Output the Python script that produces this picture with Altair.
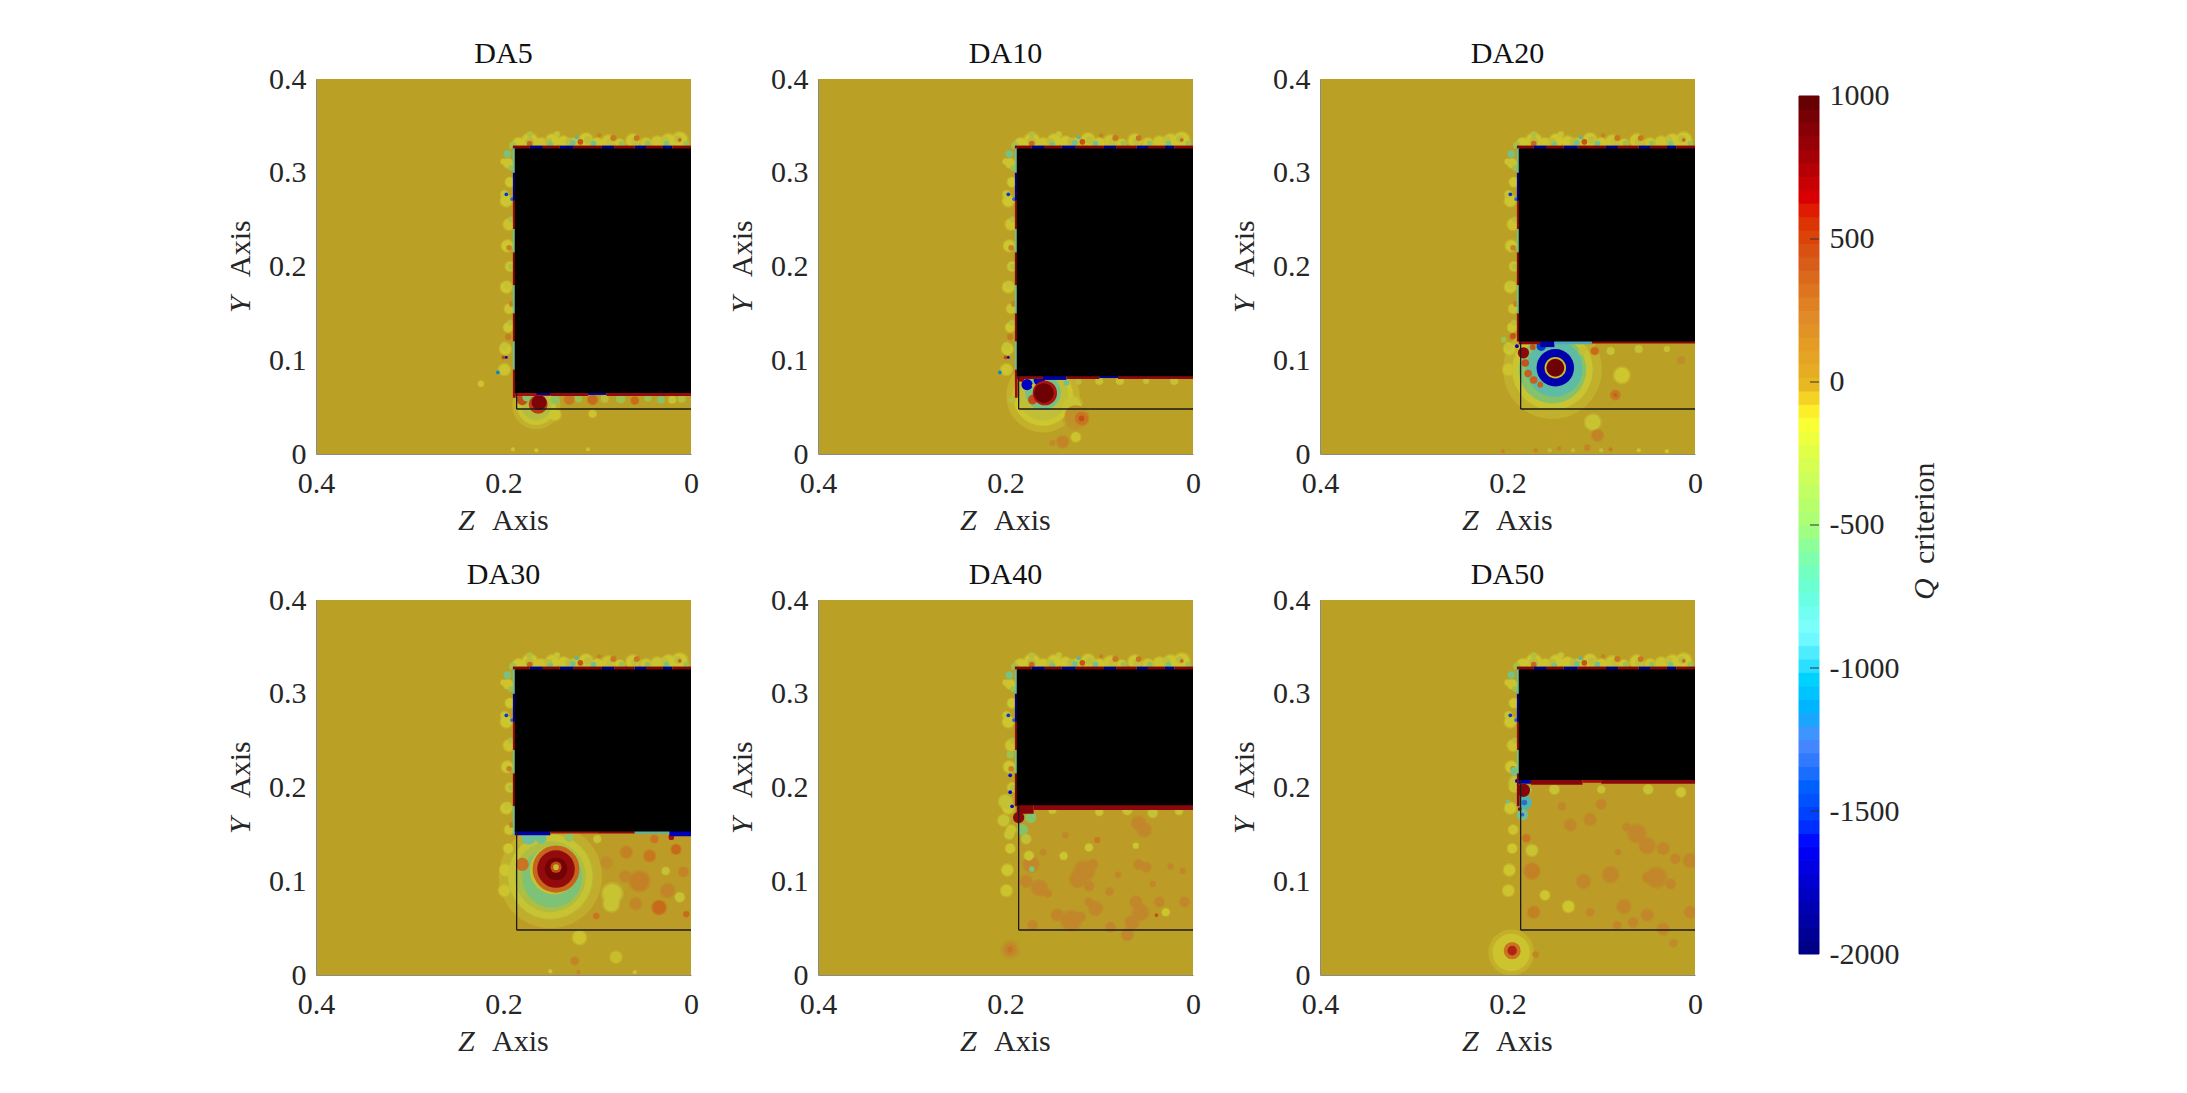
import altair as alt
import numpy as np
import pandas as pd

FONT = "Liberation Serif"
FS = 30
TXT = "#262626"
PW = PH = 375
PX_PER_UNIT = PW / 0.4

titles = ["DA5", "DA10", "DA20", "DA30", "DA40", "DA50"]
block_low = [0.065, 0.083, 0.120, 0.153, 0.181, 0.208]  # lower edge of the black body
block_top = 0.326
block_z = 0.188
box_z = 0.186
box_y = 0.048

# Q colour stops: field colours (duller than the colourbar), then colourbar colours
q_stops = [-2000, -1620, -1300, -1000, -800, -500, -300, -130, 0, 150, 300, 500, 650, 1000]
field_colors = ["#00007a", "#0000c8", "#2f6cc8", "#4fa8c0", "#6fc09a", "#9dc04e", "#bdbc3a",
                "#cdc62f", "#bba026", "#c08a2c", "#c97420", "#c24a18", "#b01410", "#640000"]
bar_stops = [-2000, -1610, -1250, -870, -500, -127, 0, 233, 424, 625, 1000]
bar_colors = ["#000080", "#0000ff", "#4d8cff", "#80ffff", "#a8ff78", "#ffff30",
              "#e6b422", "#e08a28", "#d85a18", "#e00000", "#600000"]
bar_ticks = [-2000, -1500, -1000, -500, 0, 500, 1000]

# (z, y, radius, Q)  blobs shared by all panels
fringe_base = [
    (0.184, 0.331, 0.006, -130), (0.172, 0.334, 0.008, -130), (0.160, 0.331, 0.006, -120),
    (0.148, 0.334, 0.007, -130), (0.136, 0.333, 0.006, -130), (0.124, 0.331, 0.006, -120),
    (0.112, 0.335, 0.007, -130), (0.100, 0.331, 0.006, -130), (0.088, 0.333, 0.007, -120),
    (0.076, 0.331, 0.005, -130), (0.062, 0.334, 0.007, -130), (0.048, 0.331, 0.006, -120),
    (0.036, 0.333, 0.006, -120), (0.024, 0.334, 0.007, -130), (0.012, 0.335, 0.008, -130),
    (0.195, 0.310, 0.005, -120), (0.193, 0.290, 0.005, -130), (0.197, 0.270, 0.006, -130),
    (0.194, 0.245, 0.006, -120), (0.196, 0.222, 0.006, -130), (0.193, 0.200, 0.005, -120),
    (0.197, 0.178, 0.006, -130), (0.194, 0.155, 0.005, -120), (0.195, 0.135, 0.005, -130),
    (0.198, 0.112, 0.006, -130), (0.199, 0.090, 0.006, -120),
]
fringe_top = [
    (0.196, 0.320, 0.004, -700), (0.190, 0.329, 0.004, -450), (0.172, 0.333, 0.005, -300),
    (0.172, 0.341, 0.003, -350), (0.172, 0.331, 0.003, 350), (0.152, 0.333, 0.004, -300),
    (0.150, 0.330, 0.003, -700), (0.143, 0.341, 0.003, -200), (0.130, 0.333, 0.004, -300),
    (0.126, 0.332, 0.003, -750), (0.122, 0.338, 0.002, -900), (0.118, 0.333, 0.003, 450),
    (0.110, 0.335, 0.004, -280), (0.104, 0.331, 0.003, -750), (0.098, 0.340, 0.002, 220),
    (0.086, 0.333, 0.004, -250), (0.083, 0.337, 0.003, 280), (0.074, 0.331, 0.003, -500),
    (0.060, 0.333, 0.004, -280), (0.058, 0.337, 0.003, 280), (0.046, 0.331, 0.003, -550),
    (0.028, 0.335, 0.004, -260), (0.026, 0.331, 0.003, -650), (0.014, 0.336, 0.004, -300),
    (0.012, 0.335, 0.002, 350), (0.005, 0.331, 0.003, -500),
]
fringe_left = [
    (0.192, 0.305, 0.003, -500), (0.200, 0.312, 0.003, -120), (0.199, 0.277, 0.004, -200),
    (0.197, 0.277, 0.002, -1500), (0.191, 0.272, 0.002, -1300), (0.192, 0.250, 0.003, -350),
    (0.194, 0.220, 0.003, 200), (0.192, 0.200, 0.003, -400), (0.196, 0.180, 0.004, -200),
    (0.191, 0.160, 0.003, 200), (0.193, 0.140, 0.003, -300), (0.195, 0.125, 0.003, 250),
    (0.199, 0.115, 0.004, -200), (0.200, 0.103, 0.002, 500), (0.197, 0.103, 0.0015, -1700),
    (0.200, 0.090, 0.003, -150), (0.206, 0.087, 0.002, -1200),
]
# (z0, z1, Q) along the top edge, (y0, y1, Q) along the left edge
band_top = [
    (0.190, 0.172, 850), (0.172, 0.158, -1950), (0.158, 0.140, 880), (0.140, 0.125, -1900),
    (0.125, 0.095, 880), (0.095, 0.082, -1950), (0.082, 0.060, 850), (0.060, 0.048, -1900),
    (0.048, 0.030, 880), (0.030, 0.020, -1950), (0.020, 0.0, 850),
]
band_left = [
    (0.300, 0.326, -800), (0.270, 0.300, -1900), (0.240, 0.270, 750), (0.215, 0.240, -700),
    (0.180, 0.215, 850), (0.150, 0.180, -750), (0.120, 0.150, 800), (0.090, 0.120, -800),
    (0.060, 0.090, 750),
]

blobs_da5 = [
    (0.165, 0.052, 0.021, -170), (0.165, 0.052, 0.016, -350), (0.224, 0.075, 0.003, -150),
    (0.145, 0.042, 0.006, -130), (0.105, 0.043, 0.004, -120), (0.145, 0.058, 0.005, -550),
    (0.130, 0.058, 0.005, 300), (0.120, 0.059, 0.004, -500), (0.105, 0.058, 0.005, 350),
    (0.092, 0.059, 0.004, -300), (0.075, 0.059, 0.005, -500), (0.060, 0.057, 0.004, 350),
    (0.046, 0.060, 0.004, -500), (0.032, 0.058, 0.004, -600), (0.020, 0.058, 0.004, -200),
    (0.010, 0.059, 0.004, -350), (0.180, 0.058, 0.006, 480), (0.175, 0.061, 0.005, -600),
    (0.163, 0.053, 0.010, 550), (0.162, 0.055, 0.008, 880),
    (0.110, 0.005, 0.002, -120), (0.190, 0.005, 0.002, -120), (0.165, 0.004, 0.002, -130),
]
strip_da5 = [
    (0.188, 0.150, 0.062, 0.066, 700), (0.165, 0.145, 0.063, 0.066, -1900),
    (0.150, 0.110, 0.062, 0.066, 800), (0.110, 0.090, 0.063, 0.066, -1800),
    (0.090, 0.0, 0.062, 0.066, 780),
]

blobs_da10 = [
    (0.160, 0.062, 0.032, -130), (0.160, 0.063, 0.027, -260), (0.160, 0.066, 0.019, -700),
    (0.193, 0.058, 0.004, -300), (0.129, 0.051, 0.010, -180), (0.125, 0.040, 0.012, 100),
    (0.119, 0.038, 0.007, 300), (0.119, 0.038, 0.003, 480), (0.139, 0.013, 0.006, 200),
    (0.150, 0.012, 0.003, 150), (0.125, 0.018, 0.005, -120), (0.171, 0.058, 0.005, 500),
    (0.177, 0.074, 0.006, -1650), (0.164, 0.079, 0.006, -1700), (0.183, 0.080, 0.003, 800),
    (0.170, 0.073, 0.002, -100), (0.158, 0.065, 0.013, 650), (0.159, 0.065, 0.0105, 950),
    (0.135, 0.076, 0.003, -800), (0.122, 0.077, 0.003, -300), (0.100, 0.078, 0.004, -200),
    (0.078, 0.078, 0.004, -180), (0.050, 0.078, 0.003, -230), (0.020, 0.078, 0.004, -200),
]
strip_da10 = [
    (0.188, 0.160, 0.080, 0.084, 800), (0.160, 0.135, 0.079, 0.084, -1800),
    (0.135, 0.100, 0.080, 0.084, 850), (0.100, 0.080, 0.081, 0.084, -1800),
    (0.080, 0.0, 0.080, 0.084, 800),
]

blobs_da20 = [
    (0.152, 0.090, 0.043, -170), (0.152, 0.090, 0.036, -600), (0.150, 0.091, 0.030, -850),
    (0.183, 0.108, 0.006, 800), (0.181, 0.097, 0.004, 450), (0.178, 0.086, 0.004, 400),
    (0.172, 0.079, 0.004, 400), (0.165, 0.074, 0.003, 400),
    (0.149, 0.092, 0.020, -1750), (0.164, 0.115, 0.005, -1500), (0.149, 0.092, 0.0115, -100),
    (0.149, 0.092, 0.0096, 950), (0.173, 0.114, 0.003, 450), (0.107, 0.110, 0.004, 350),
    (0.204, 0.122, 0.003, -500), (0.194, 0.126, 0.003, 450), (0.190, 0.115, 0.002, -1700),
    (0.078, 0.084, 0.008, -130), (0.085, 0.063, 0.005, 280), (0.085, 0.063, 0.002, 400),
    (0.109, 0.034, 0.008, -180), (0.104, 0.020, 0.006, 200), (0.120, 0.110, 0.004, -250),
    (0.090, 0.110, 0.004, -200), (0.060, 0.112, 0.004, -220), (0.030, 0.112, 0.003, -200),
    (0.015, 0.100, 0.004, 130), (0.170, 0.004, 0.002, 200), (0.155, 0.004, 0.002, -300),
    (0.145, 0.006, 0.002, 180), (0.130, 0.004, 0.002, -300), (0.115, 0.007, 0.003, 200),
    (0.100, 0.004, 0.002, -250), (0.090, 0.005, 0.002, 250), (0.060, 0.004, 0.002, -150),
    (0.205, 0.003, 0.002, 180), (0.030, 0.003, 0.002, -150),
]
strip_da20 = [
    (0.188, 0.165, 0.117, 0.121, 800), (0.165, 0.150, 0.114, 0.121, -1800),
    (0.150, 0.110, 0.117, 0.121, -1000), (0.110, 0.0, 0.118, 0.121, 820),
]

blobs_da30 = [
    (0.150, 0.105, 0.045, -180), (0.150, 0.105, 0.038, -400), (0.148, 0.104, 0.032, -650),
    (0.146, 0.112, 0.026, -210), (0.180, 0.118, 0.007, 300), (0.173, 0.147, 0.008, -800),
    (0.160, 0.146, 0.006, -750), (0.130, 0.147, 0.005, -550), (0.100, 0.145, 0.004, -200),
    (0.144, 0.113, 0.025, 380), (0.144, 0.113, 0.020, 780), (0.144, 0.113, 0.012, 930),
    (0.144, 0.115, 0.006, 500), (0.144, 0.115, 0.003, -100),
    (0.069, 0.131, 0.006, 220), (0.044, 0.127, 0.006, 280), (0.039, 0.145, 0.004, 300),
    (0.021, 0.147, 0.003, 650), (0.016, 0.134, 0.005, 350), (0.055, 0.100, 0.010, 220),
    (0.070, 0.105, 0.006, 170), (0.034, 0.072, 0.007, 350), (0.059, 0.076, 0.006, 180),
    (0.084, 0.087, 0.010, -180), (0.085, 0.076, 0.008, -180), (0.119, 0.040, 0.007, -120),
    (0.080, 0.019, 0.006, -100), (0.124, 0.015, 0.004, 200), (0.101, 0.063, 0.003, 300),
    (0.005, 0.065, 0.003, 350), (0.012, 0.083, 0.005, -200), (0.027, 0.111, 0.004, -200),
    (0.090, 0.120, 0.006, 130), (0.025, 0.090, 0.007, 180), (0.008, 0.110, 0.005, 200),
    (0.150, 0.004, 0.002, -150), (0.120, 0.003, 0.002, 200), (0.060, 0.003, 0.002, -120),
]
strip_da30 = [
    (0.188, 0.150, 0.149, 0.154, -1800), (0.150, 0.100, 0.151, 0.154, 700),
    (0.100, 0.060, 0.151, 0.154, 820), (0.060, 0.023, 0.151, 0.154, -900),
    (0.023, 0.0, 0.148, 0.154, -1700),
]

blobs_da40 = [
    (0.116, 0.111, 0.010, 170), (0.123, 0.102, 0.008, 170), (0.107, 0.118, 0.005, 170),
    (0.111, 0.095, 0.005, 170), (0.173, 0.118, 0.008, 170), (0.178, 0.100, 0.006, 170),
    (0.164, 0.093, 0.008, 170), (0.155, 0.087, 0.004, 170), (0.130, 0.058, 0.010, 170),
    (0.145, 0.064, 0.006, 170), (0.120, 0.062, 0.005, 170), (0.104, 0.071, 0.007, 170),
    (0.111, 0.078, 0.004, 170), (0.058, 0.162, 0.007, 170), (0.052, 0.155, 0.007, 170),
    (0.061, 0.078, 0.006, 170), (0.056, 0.067, 0.008, 170), (0.065, 0.056, 0.007, 170),
    (0.070, 0.043, 0.006, 170), (0.058, 0.118, 0.005, 170), (0.050, 0.115, 0.005, 170),
    (0.089, 0.089, 0.004, 170), (0.080, 0.107, 0.003, 170), (0.036, 0.078, 0.005, 170),
    (0.009, 0.078, 0.005, 170), (0.011, 0.111, 0.003, 170), (0.024, 0.116, 0.003, 170),
    (0.043, 0.097, 0.003, 170), (0.102, 0.144, 0.003, 260), (0.136, 0.149, 0.003, 170),
    (0.088, 0.051, 0.005, 170), (0.171, 0.053, 0.005, 170), (0.160, 0.131, 0.003, 170),
    (0.111, 0.136, 0.004, -150), (0.138, 0.127, 0.004, -150), (0.061, 0.138, 0.003, -150),
    (0.043, 0.173, 0.005, -200), (0.070, 0.176, 0.005, -200), (0.029, 0.067, 0.004, -150),
    (0.175, 0.127, 0.005, -160), (0.039, 0.064, 0.002, 480), (0.015, 0.175, 0.004, -180),
    (0.100, 0.174, 0.004, -160), (0.150, 0.176, 0.004, -180),
    (0.200, 0.185, 0.007, -220), (0.202, 0.165, 0.006, -200), (0.196, 0.150, 0.005, -180),
    (0.182, 0.155, 0.006, -600), (0.178, 0.145, 0.005, -250), (0.173, 0.168, 0.006, -600),
    (0.186, 0.168, 0.006, 820), (0.178, 0.176, 0.003, 700), (0.195, 0.235, 0.004, -500),
    (0.195, 0.213, 0.002, -1600), (0.195, 0.195, 0.002, -1600), (0.193, 0.180, 0.002, -1600),
    (0.172, 0.113, 0.003, -650), (0.195, 0.027, 0.009, 90), (0.195, 0.027, 0.007, 170),
    (0.195, 0.027, 0.003, 300),
]
strip_da40 = [
    (0.188, 0.170, 0.172, 0.182, 850), (0.170, 0.0, 0.176, 0.182, 820),
]

blobs_da50 = [
    (0.133, 0.160, 0.006, 170), (0.112, 0.166, 0.006, 170), (0.100, 0.182, 0.005, 170),
    (0.142, 0.180, 0.004, 170), (0.062, 0.151, 0.009, 170), (0.051, 0.138, 0.008, 170),
    (0.034, 0.135, 0.006, 170), (0.073, 0.158, 0.004, 170), (0.119, 0.100, 0.007, 170),
    (0.090, 0.107, 0.008, 170), (0.041, 0.104, 0.010, 170), (0.051, 0.104, 0.005, 170),
    (0.026, 0.097, 0.005, 170), (0.005, 0.122, 0.007, 170), (0.021, 0.124, 0.005, 170),
    (0.076, 0.073, 0.007, 170), (0.051, 0.064, 0.006, 170), (0.066, 0.056, 0.005, 170),
    (0.034, 0.049, 0.006, 170), (0.005, 0.067, 0.006, 170), (0.083, 0.053, 0.004, 170),
    (0.112, 0.067, 0.004, 170), (0.082, 0.131, 0.003, 170), (0.023, 0.034, 0.004, 140),
    (0.135, 0.073, 0.006, -130), (0.160, 0.085, 0.005, -130), (0.050, 0.198, 0.005, -200),
    (0.100, 0.198, 0.004, -200), (0.150, 0.198, 0.005, -180), (0.015, 0.195, 0.005, -150),
    (0.174, 0.133, 0.006, -180), (0.174, 0.111, 0.008, 220), (0.172, 0.067, 0.006, 220),
    (0.180, 0.146, 0.004, 300), (0.190, 0.205, 0.008, -220), (0.192, 0.217, 0.005, -700),
    (0.178, 0.197, 0.004, -500), (0.182, 0.184, 0.008, -900), (0.184, 0.171, 0.006, -800),
    (0.182, 0.184, 0.003, -1300), (0.184, 0.171, 0.002, -1300), (0.187, 0.177, 0.002, 800),
    (0.183, 0.197, 0.007, 850), (0.190, 0.207, 0.002, -1700), (0.200, 0.185, 0.002, -800),
    (0.196, 0.024, 0.020, -120), (0.195, 0.026, 0.009, 300), (0.195, 0.026, 0.005, 620),
    (0.170, 0.022, 0.003, 200),
]
strip_da50 = [
    (0.188, 0.175, 0.204, 0.209, -1800), (0.175, 0.120, 0.203, 0.209, 850),
    (0.120, 0.100, 0.205, 0.209, 700), (0.100, 0.0, 0.204, 0.209, 830),
]

all_blobs = [blobs_da5, blobs_da10, blobs_da20, blobs_da30, blobs_da40, blobs_da50]
all_strips = [strip_da5, strip_da10, strip_da20, strip_da30, strip_da40, strip_da50]
mottled = [False, False, False, True, True, True]

field_scale = alt.Scale(domain=q_stops, range=field_colors, clamp=True)
bar_scale = alt.Scale(domain=bar_stops, range=bar_colors, clamp=True)
one_z = alt.Scale(domain=[0.4, 0], nice=False)
one_y = alt.Scale(domain=[0, 0.4], nice=False)

# every layer needs the same axis, vega-lite drops it if one layer has none
z_axis = alt.Axis(
    values=[0.4, 0.2, 0], format="~g", grid=False, tickSize=0, labelFont=FONT, labelFontSize=FS,
    labelColor=TXT, labelPadding=14, labelFlush=False, labelOverlap=False,
    domainColor="#8a8a8a", zindex=1)
y_axis = alt.Axis(
    values=[0, 0.1, 0.2, 0.3, 0.4], format="~g", grid=False, tickSize=0, labelFont=FONT,
    labelFontSize=FS, labelColor=TXT, labelPadding=10, labelFlush=False, labelOverlap=False,
    domainColor="#8a8a8a", zindex=1)


def ax_x(field):
    return alt.X(field, scale=one_z, axis=z_axis, title=None)


def ax_y(field):
    return alt.Y(field, scale=one_y, axis=y_axis, title=None)


def text_mark(text, x, y, italic=False, angle=0):
    return (
        alt.Chart(pd.DataFrame({"t": [text]}))
        .mark_text(font=FONT, fontSize=FS, color=TXT, align="left", baseline="alphabetic",
                   angle=angle, fontStyle="italic" if italic else "normal")
        .encode(x=alt.value(x), y=alt.value(y), text="t:N")
    )


def rect_layer(rows):
    df = pd.DataFrame(rows, columns=["z0", "z1", "y0", "y1", "q"])
    return alt.Chart(df).mark_rect(clip=True).encode(
        x=ax_x("z0:Q"), x2="z1:Q", y=ax_y("y0:Q"), y2="y1:Q",
        color=alt.Color("q:Q", scale=field_scale, legend=None),
    )


def blob_layer(df, area, opacity):
    return alt.Chart(df).mark_circle(opacity=opacity, clip=True).encode(
        x=ax_x("z:Q"), y=ax_y("y:Q"),
        size=alt.Size(area, scale=None, legend=None),
        color=alt.Color("q:Q", scale=field_scale, legend=None),
    )


def panel(i):
    low = block_low[i]
    layers = [rect_layer([(0.4, 0.0, 0.0, 0.4, 0)])]
    if mottled[i]:
        layers.append(rect_layer([(box_z, 0.0, box_y, low, 25)]))

    rows = (fringe_base + fringe_top + [r for r in fringe_left if r[1] > low - 0.012]
            + [r for r in all_blobs[i]])
    blobs = pd.DataFrame(rows, columns=["z", "y", "r", "q"])
    blobs["area"] = (2 * blobs["r"] * PX_PER_UNIT) ** 2
    # a translucent wider copy under the blobs softens their edges like the contour plot
    blobs["soft"] = blobs["area"] * 1.5
    layers.append(blob_layer(blobs[blobs["q"].abs() < 450], "soft:Q", 0.45))
    layers.append(blob_layer(blobs, "area:Q", 1))

    top = [(a, b, block_top - 0.002, block_top + 0.003, q) for a, b, q in band_top]
    left = [(block_z + 0.002, block_z - 0.001, a, b, q) for a, b, q in band_left if b > low]
    layers.append(rect_layer(top + left + all_strips[i]))

    block = pd.DataFrame({"z0": [block_z], "z1": [0.0], "y0": [low], "y1": [block_top]})
    layers.append(
        alt.Chart(block).mark_rect(color="#000000", clip=True).encode(
            x=ax_x("z0:Q"), x2="z1:Q", y=ax_y("y0:Q"), y2="y1:Q",
        )
    )

    # the thin black outline of the inner box
    h_line = pd.DataFrame({"z0": [box_z], "z1": [0.0], "y0": [box_y]})
    v_line = pd.DataFrame({"z0": [box_z], "y0": [box_y], "y1": [low]})
    layers.append(
        alt.Chart(h_line).mark_rule(color="#1a1a1a", strokeWidth=1.3).encode(
            x=ax_x("z0:Q"), x2="z1:Q", y=ax_y("y0:Q"),
        )
    )
    layers.append(
        alt.Chart(v_line).mark_rule(color="#1a1a1a", strokeWidth=1.3).encode(
            x=ax_x("z0:Q"), y=ax_y("y0:Q"), y2="y1:Q",
        )
    )

    layers += [
        text_mark("Z", 142, PH + 76, italic=True),
        text_mark("Axis", 176, PH + 76),
        text_mark("Y", -66, 234, italic=True, angle=270),
        text_mark("Axis", -66, 198, angle=270),
    ]
    return alt.layer(*layers).properties(
        width=PW, height=PH,
        title=alt.TitleParams(titles[i], font=FONT, fontSize=FS, fontWeight="normal",
                              color="#111111", offset=-5),
    )


# colourbar, its plot area is as tall as both rows so the scale is padded to sit in the middle
bar_edges = np.linspace(-2000, 1000, 65)
bar_df = pd.DataFrame({"lo": bar_edges[:-1], "hi": bar_edges[1:]})
bar_df["q"] = (bar_df["lo"] + bar_df["hi"]) / 2
bar_y = alt.Scale(domain=[-2066.4, 1059.4], nice=False, zero=False)
bar_axis = alt.Axis(
    orient="right", values=bar_ticks, labelExpr="'' + datum.value", grid=False, tickSize=0,
    domain=False, labelFont=FONT, labelFontSize=FS, labelColor=TXT, labelPadding=10,
    labelOverlap=False, labelFlush=False)

bar = alt.Chart(bar_df).mark_rect().encode(
    y=alt.Y("lo:Q", scale=bar_y, title=None, axis=bar_axis),
    y2="hi:Q",
    color=alt.Color("q:Q", scale=bar_scale, legend=None),
    stroke=alt.Stroke("q:Q", scale=bar_scale, legend=None),
)
bar_ticks_df = pd.DataFrame({"v": bar_ticks[1:-1]})
bar_rules = alt.Chart(bar_ticks_df).mark_rule(color="#333333", strokeWidth=1).encode(
    y=alt.Y("v:Q", scale=bar_y, title=None, axis=bar_axis), x=alt.value(11), x2=alt.value(20),
)
bar_chart = alt.layer(
    bar, bar_rules,
    text_mark("Q", 135, 521, italic=True, angle=270),
    text_mark("criterion", 135, 485, angle=270),
).properties(width=20, height=PH * 2 + 144)

left = alt.concat(*[panel(i) for i in range(6)], columns=3, bounds="flush",
                  spacing={"row": 146, "column": 127})

chart = alt.hconcat(left, bar_chart, spacing=95).resolve_scale(
    color="independent", stroke="independent"
).properties(
    padding={"left": 218, "top": 31, "right": 10, "bottom": 10},
).configure_view(stroke=None)

chart.save("out.html", embed_options={"renderer": "svg", "actions": False})
